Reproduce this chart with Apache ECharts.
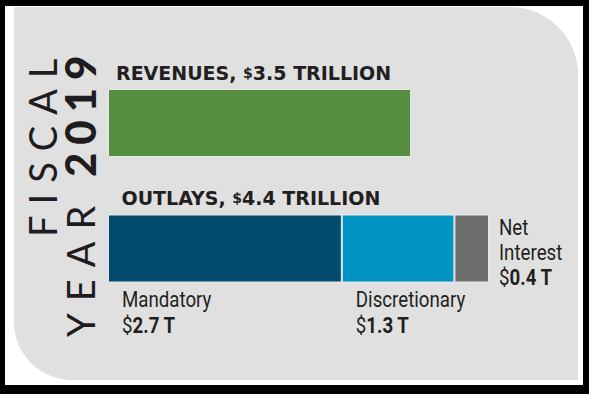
<!DOCTYPE html>
<html><head><meta charset="utf-8">
<script src="https://cdn.jsdelivr.net/npm/echarts@6/dist/echarts.min.js"></script>
<style>
html,body{margin:0;padding:0;background:#000;}
#c{width:589px;height:394px;}
#c svg text[fill="#1e1c1d"]{letter-spacing:11px;}
#c svg text[fill="#1e1c1e"]{letter-spacing:12px;}
#c svg text[fill="#1e1c1f"]{letter-spacing:8px;}
</style></head><body><div id="c"></div>
<script>
// ---- data ----
const categories = ['Revenues', 'Outlays'];
const revenueValues = [3.5, '-'];
const mandatoryValues = ['-', 2.7];
const discretionaryValues = ['-', 1.3];
const netInterestValues = ['-', 0.4];
const partNames = ['Mandatory', 'Discretionary', 'Net Interest'];
const titleWords = ['FISCAL', 'YEAR', '2019'];
const unitWord = 'TRILLION';
const unitShort = 'T';

const outlaysTotal = mandatoryValues[1] + discretionaryValues[1] + netInterestValues[1];

const ink = '#231f20';
const capFont = 'DejaVu Sans';
const narrowFont = 'Roboto';

const capRich = {
  t: {fontFamily: capFont, fontWeight: 'bold', fontSize: 19, color: ink},
  d: {fontFamily: capFont, fontWeight: 'bold', fontSize: 14, color: ink}
};
function totalText(name, v) {
  return '{t|' + name.toUpperCase() + ', }{d|$}{t|' + Number(v).toFixed(1) + ' ' + unitWord + '}';
}
function partText(name, v) {
  const nameLines = name.split(' ').map(w => '{n|' + w + '}').join('\n');
  return nameLines + '\n{s|$}{v|' + Number(v).toFixed(1) + ' ' + unitShort + '}';
}
function partRich(lh) {
  return {
    n: {fontFamily: narrowFont, fontSize: 22, fill: ink, lineHeight: lh},
    s: {fontFamily: narrowFont, fontSize: 22, fill: ink, lineHeight: lh},
    v: {fontFamily: narrowFont, fontSize: 22, fontWeight: 'bold', fill: ink, lineHeight: lh}
  };
}

const chart = echarts.init(document.getElementById('c'), null, {renderer: 'svg'});
const barW = 68;
const bordered = {borderColor: 'rgba(235,235,235,0.95)', borderWidth: 1};

const baseGraphic = [
  {type: 'rect', z: -10, silent: true, shape: {x: 5, y: 6, width: 578, height: 379}, style: {fill: '#ffffff'}},
  {type: 'rect', z: -9, silent: true, shape: {x: 14, y: 7, width: 564, height: 373, r: [0, 68, 0, 58]}, style: {fill: '#e0e0e0'}},
  {type: 'text', z: 5, x: 41.5, y: 237, rotation: Math.PI / 2,
    style: {text: titleWords[0], font: '400 38px Lato', fill: '#1e1c1d', align: 'left', verticalAlign: 'middle'}},
  {type: 'text', z: 5, x: 80, y: 337, rotation: Math.PI / 2,
    style: {text: titleWords[1], font: '400 38px Lato', fill: '#1e1c1e', align: 'left', verticalAlign: 'middle'}},
  {type: 'text', z: 5, x: 80, y: 177, rotation: Math.PI / 2,
    style: {text: titleWords[2], font: '900 42px Lato', fill: '#1e1c1f', align: 'left', verticalAlign: 'middle'}}
];

chart.setOption({
  animation: false,
  backgroundColor: '#000',
  grid: {left: 108, right: 48, top: 60.25, height: 251},
  xAxis: {type: 'value', min: 0, max: 5, show: false},
  yAxis: {type: 'category', data: categories, inverse: true, show: false},
  graphic: baseGraphic,
  series: [
    {
      name: categories[0], type: 'bar', stack: 'all', barWidth: barW,
      data: revenueValues,
      itemStyle: Object.assign({color: '#568e41'}, bordered),
      label: {show: true, position: [8, -16.5], align: 'left', verticalAlign: 'middle',
        formatter: p => totalText(p.name, p.value), rich: capRich}
    },
    {
      name: partNames[0], type: 'bar', stack: 'all', barWidth: barW,
      data: mandatoryValues,
      itemStyle: Object.assign({color: '#024b6f'}, bordered),
      markPoint: {
        symbol: 'rect', symbolSize: 1, itemStyle: {color: 'rgba(0,0,0,0)'},
        data: [{coord: [0, categories[1]], value: outlaysTotal}],
        label: {show: true, position: 'right', distance: 0, offset: [13, -barW / 2 - 16.5],
          align: 'left', verticalAlign: 'middle',
          formatter: () => totalText(categories[1], outlaysTotal), rich: capRich}
      }
    },
    {
      name: partNames[1], type: 'bar', stack: 'all', barWidth: barW,
      data: discretionaryValues,
      itemStyle: Object.assign({color: '#0094c3'}, bordered)
    },
    {
      name: partNames[2], type: 'bar', stack: 'all', barWidth: barW,
      data: netInterestValues,
      itemStyle: Object.assign({color: '#6d6e6e'}, bordered)
    }
  ]
});

// part labels placed through the library's scales (condensed via scaleX)
const yC = chart.convertToPixel({yAxisIndex: 0}, categories[1]);
const xAt = v => chart.convertToPixel({xAxisIndex: 0}, v);
const x0 = xAt(0);
const x1 = xAt(mandatoryValues[1]);
const x3 = xAt(outlaysTotal);
const sx = 0.85;
const partLabels = [
  {type: 'text', z: 6, x: x0 + 14, y: yC + barW / 2 + 4, scaleX: sx,
    style: {text: partText(partNames[0], mandatoryValues[1]), rich: partRich(26), align: 'left', verticalAlign: 'top'}},
  {type: 'text', z: 6, x: x1 + 14, y: yC + barW / 2 + 4, scaleX: sx,
    style: {text: partText(partNames[1], discretionaryValues[1]), rich: partRich(26), align: 'left', verticalAlign: 'top'}},
  {type: 'text', z: 6, x: x3 + 10, y: yC + 4, scaleX: sx,
    style: {text: partText(partNames[2], netInterestValues[1]), rich: partRich(25), align: 'left', verticalAlign: 'middle'}}
];
chart.setOption({graphic: baseGraphic.concat(partLabels)});
</script></body></html>
